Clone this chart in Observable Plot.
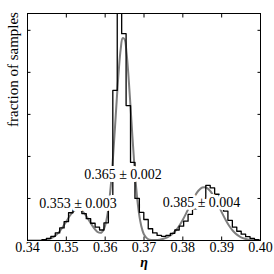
<!DOCTYPE html>
<html>
<head>
<meta charset="utf-8">
<script src="https://cdn.jsdelivr.net/npm/d3@7"></script>
<script src="https://cdn.jsdelivr.net/npm/@observablehq/plot@0.6"></script>
<style>
  html, body { margin: 0; padding: 0; background: white; }
</style>
</head>
<body>
<div id="chart"></div>
<script>
// ---- data ----
const xTicks = [0.34, 0.35, 0.36, 0.37, 0.38, 0.39, 0.40];
const yTicks = [0, 1, 2, 3, 4, 5];

// histogram (fraction of samples per bin)
const binStart = 0.34373;
const binWidth = 0.00114;
const binCounts = [
  0.02, 0.05, 0.10, 0.18, 0.30, 0.45, 0.66, 0.76, 0.74, 0.64,
  0.52, 0.41, 0.32, 0.25, 0.42, 0.95, 3.57, 6.20, 4.92, 3.21,
  1.86, 1.00, 0.67, 0.50, 0.28, 0.18, 0.12, 0.10, 0.12, 0.17,
  0.25, 0.34, 0.46, 0.62, 0.75, 0.90, 1.00, 1.31, 1.25, 1.10,
  0.95, 0.70, 0.48, 0.32, 0.22, 0.15, 0.09, 0.05, 0.02
];

// smooth grey fit curve
const fitX = [
  0.340, 0.342, 0.344, 0.345, 0.346, 0.347, 0.348, 0.349, 0.350, 0.351,
  0.352, 0.353, 0.354, 0.355, 0.356, 0.357, 0.358, 0.359, 0.3595, 0.360,
  0.3605, 0.361, 0.3615, 0.362, 0.3625, 0.363, 0.3635, 0.364, 0.3645, 0.365,
  0.3655, 0.366, 0.3665, 0.367, 0.3675, 0.368, 0.3685, 0.369, 0.3695, 0.370,
  0.371, 0.372, 0.373, 0.374, 0.375, 0.376, 0.377, 0.378, 0.379, 0.380,
  0.381, 0.382, 0.383, 0.384, 0.385, 0.386, 0.387, 0.388, 0.389, 0.390,
  0.391, 0.392, 0.393, 0.394, 0.395, 0.396, 0.397, 0.398, 0.399, 0.400
];
const fitY = [
  0.000, 0.001, 0.008, 0.021, 0.049, 0.101, 0.187, 0.308, 0.455, 0.600,
  0.709, 0.750, 0.709, 0.600, 0.455, 0.311, 0.205, 0.185, 0.236, 0.355,
  0.567, 0.896, 1.359, 1.954, 2.648, 3.375, 4.043, 4.553, 4.816, 4.786,
  4.468, 3.918, 3.228, 2.499, 1.817, 1.241, 0.796, 0.480, 0.272, 0.145,
  0.036, 0.011, 0.011, 0.020, 0.041, 0.076, 0.133, 0.219, 0.339, 0.494,
  0.674, 0.866, 1.045, 1.184, 1.260, 1.260, 1.184, 1.045, 0.866, 0.674,
  0.494, 0.339, 0.219, 0.133, 0.076, 0.041, 0.020, 0.010, 0.004, 0.002
];

// peak annotations
const labelText = ["0.353 \u00b1 0.003", "0.365 \u00b1 0.002", "0.385 \u00b1 0.004"];
const labelX = [0.353, 0.3646, 0.3848];
const labelY = [0.89, 1.57, 0.90];

// ---- build tables ----
const hist = [{x: binStart, y: 0}];
binCounts.forEach((c, i) => hist.push({x: binStart + i * binWidth, y: c}));
hist.push({x: binStart + binCounts.length * binWidth, y: 0});

const fit = fitX.map((x, i) => ({x, y: fitY[i]}));
const labels = labelText.map((t, i) => ({t, x: labelX[i], y: labelY[i]}));

const font = "'Liberation Serif', 'Times New Roman', serif";

const chart = Plot.plot({
  width: 274,
  height: 274,
  marginLeft: 27,
  marginRight: 14,
  marginTop: 13,
  marginBottom: 34,
  style: {fontFamily: font, fontSize: "14px", background: "white", color: "black"},
  x: {domain: [0.34, 0.40]},
  y: {domain: [0, 5.4]},
  marks: [
    Plot.line(fit, {x: "x", y: "y", stroke: "#7f7f7f", strokeWidth: 2, curve: "catmull-rom", clip: "frame"}),
    Plot.line(hist, {x: "x", y: "y", stroke: "black", strokeWidth: 1.3, curve: "step-after", clip: "frame"}),
    Plot.text(labels, {x: "x", y: "y", text: "t", fontSize: 14, fill: "black", stroke: "white", strokeWidth: 6, fontFamily: font}),
    Plot.frame({stroke: "black", strokeWidth: 1}),
    // tick labels
    Plot.axisX({ticks: xTicks, anchor: "bottom", tickSize: 0, tickPadding: 2, tickFormat: d => d.toFixed(2), label: null, fontSize: 14}),
    // inward ticks
    Plot.axisX({ticks: xTicks, anchor: "bottom", tickSize: -3.5, tickFormat: () => "", label: null}),
    Plot.axisX({ticks: xTicks, anchor: "top", tickSize: -3.5, tickFormat: () => "", label: null}),
    Plot.axisY({ticks: yTicks, anchor: "left", tickSize: -3.5, tickFormat: () => "", label: null}),
    Plot.axisY({ticks: yTicks, anchor: "right", tickSize: -3.5, tickFormat: () => "", label: null}),
    // axis titles
    Plot.text(["fraction of samples"], {text: d => d, frameAnchor: "left", dx: -14, rotate: -90, fontSize: 15, fontFamily: font}),
    Plot.text(["\u03b7"], {text: d => d, frameAnchor: "bottom", dy: 26, fontSize: 14, fontWeight: "bold", fontStyle: "italic", fontFamily: font})
  ]
});
document.getElementById("chart").appendChild(chart);
</script>
</body>
</html>
